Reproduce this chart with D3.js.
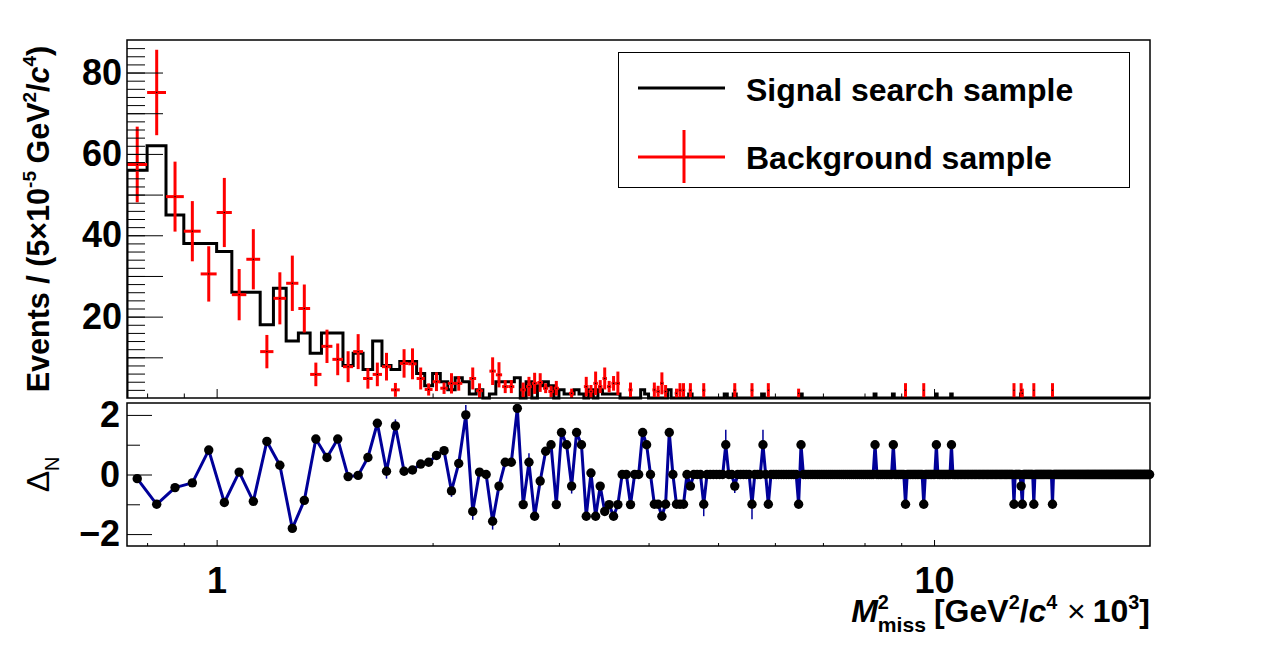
<!DOCTYPE html>
<html>
<head>
<meta charset="utf-8">
<script src="https://cdn.jsdelivr.net/npm/d3@7"></script>
<style>
  body { margin: 0; background: #fff; }
  svg { display: block; font-family: "Liberation Sans", Arial, Helvetica, sans-serif; }
  text { white-space: pre; }
</style>
</head>
<body>
<svg id="plot" width="1278" height="668"></svg>
<script>
// binning of M^2_miss (x10^3 GeV^2/c^4)
const binStart = 0.75;
const binWidth = 0.05;
const binCount = 385;

// signal search sample, entries per bin for bins 0..80
const signalCounts = [56, 62, 45, 38, 38, 36, 26, 26, 18, 27, 14, 16, 11, 16, 16, 8, 11, 7, 14, 8, 7, 9, 9, 6, 3, 6,
  4, 2, 5, 4, 1, 2, 0, 1, 4, 4, 4, 5, 0, 4, 0,
  3, 4, 3, 0, 2, 1, 1, 2, 1, 0, 2, 0, 2, 1, 1, 1, 1,
  0, 0, 0, 0, 0, 2, 1, 0, 0, 0, 0, 0, 2, 0, 0, 0, 0, 0, 1, 0, 0, 0, 0];
// bins above 80 that are not empty: [bin, entries]
const signalSparse = [[87, 1], [90, 1], [100, 1], [115, 1], [150, 1], [160, 1], [186, 1], [196, 1], [249, 1]];

// background sample, [value, error] for bins 0..80 (null = empty bin)
const bkgPoints = [[57.4, 9.3], [75.1, 10.5], [49.5, 8.6], [41.0, 7.4], [30.5, 6.8], [45.6, 8.5], [25.4, 6.3],
  [34.1, 7.4], [11.4, 4.1], [24.5, 6.4], [28.2, 6.8], [22.0, 5.9], [5.8, 2.9], [12.7, 4.1], [9.5, 3.9],
  [7.7, 3.8], [11.4, 4.3], [4.8, 2.5], [5.8, 2.9], [7.7, 3.4], [2.0, 1.7], [8.5, 3.5], [8.4, 3.8],
  [4.8, 2.7], [2.1, 1.5], [4.0, 2.3], [2.4, 1.4], [3.6, 2.5], [3.6, 1.8], null, [4.8, 2.7], [1.8, 1.8],
  null, [6.6, 3.4], [5.7, 3.1], [2.8, 1.6], [2.8, 1.6], null, [2.0, 1.8], [2.8, 2.4], [3.6, 2.6],
  [3.8, 2.3], [2.4, 1.2], [1.6, 1.4], [2.4, 1.8], null, null, [1.15, 1.15], null, null, [2.8, 2.4],
  [1.6, 1.6], [3.6, 2.9], [2.8, 1.6], [4.8, 2.7], [2.8, 1.4], [3.6, 1.8], [3.6, 2.9], null, null,
  [2.0, 1.8], null, null, null, null, null, [2.0, 1.8], [1.6, 1.4], [3.6, 2.7], [1.6, 1.6], null, null,
  [1.15, 1.15], [1.9, 1.75], [1.9, 1.75], null, [1.9, 1.75], null, null, null, [1.9, 1.75]];
// bins above 80: [bin, value, error]
const bkgSparse = [[90, 1.9, 1.75], [96, 1.9, 1.75], [102, 1.9, 1.75], [114, 1.15, 1.15], [167, 1.9, 1.75],
  [178, 1.9, 1.75], [243, 1.9, 1.75], [249, 1.9, 1.75], [250, 1.15, 1.15], [260, 1.9, 1.75], [277, 1.9, 1.75]];

// pull Delta_N per bin, bins 0..80
const deltaValues = [-0.14, -1.0, -0.44, -0.28, 0.82, -0.94, 0.08, -0.90, 1.11, 0.31, -1.81, -0.87, 1.19, 0.57,
  1.19, -0.07, -0.03, 0.57, 1.72, 0.11, 1.63, 0.11, 0.15, 0.35, 0.41, 0.64, 0.80, -0.55, 0.37, 2.0,
  -1.24, 0.08, 0, -1.57, -0.39, 0.41, 0.41, 2.22, -1.01, 0.41, -1.40, -0.22, 0.78, 1.0, -1.01, 1.41,
  1.0, -0.39, 1.41, 1.0, -1.40, 0.05, -1.40, -0.39, -1.24, -1.01, -1.40, -1.01, 0, 0, -1.01, 0, 0,
  1.41, 1.0, 0, -1.0, -1.0, -1.40, -1.0, 1.41, 0, -1.0, -1.0, -1.0, 0, -0.39, 0, 0, 0, -1.0];
// bins above 80 with non-zero pull: [bin, value]
const deltaSparse = [[87, 1], [90, -0.39], [96, -1], [100, 1], [102, -1], [114, -1], [115, 1], [150, 1],
  [160, 1], [167, -1], [178, -1], [186, 1], [196, 1], [243, -1], [249, -0.39], [250, -1], [260, -1], [277, -1]];
// visible pull error bars: [bin, error]
const deltaErrors = [[19, 0.25], [20, 0.22], [27, 0.2], [29, 0.33], [30, 0.28], [33, 0.28], [39, 0.3],
  [47, 0.25], [80, 0.4], [87, 0.5], [90, 0.23], [96, 0.5], [100, 0.5]];

// axis ticks
const xMajorTicks = [1, 10];
const xMinorTicks = [0.8, 0.9, 2, 3, 4, 5, 6, 7, 8, 9];
const yTopLabels = [20, 40, 60, 80];
const yTopMajor = [10, 20, 30, 40, 50, 60, 70, 80];
const yBotLabels = [-2, 0, 2];
const yBotMinor = [-1, 1];

const svg = d3.select("#plot");
const frameL = 127, frameR = 1150;
const topY0 = 40, topY1 = 398;
const botY0 = 403, botY1 = 546;
const labelFont = 36;

const x = d3.scaleLog().domain([0.75, 20]).range([frameL, frameR]);
const yTop = d3.scaleLinear().domain([0, 88]).range([topY1, topY0]);
const yBot = d3.scaleLinear().domain([-2.4, 2.4]).range([botY1, botY0]);

// assemble per-bin arrays
const edges = d3.range(binCount + 1).map(i => binStart + i * binWidth);
const centers = d3.range(binCount).map(i => binStart + (i + 0.5) * binWidth);
const signal = new Array(binCount).fill(0);
signalCounts.forEach((v, i) => signal[i] = v);
signalSparse.forEach(([b, v]) => signal[b] = v);
const bkg = [];
bkgPoints.forEach((p, i) => { if (p) bkg.push({ bin: i, v: p[0], e: p[1] }); });
bkgSparse.forEach(([b, v, e]) => bkg.push({ bin: b, v: v, e: e }));
const delta = new Array(binCount).fill(0);
deltaValues.forEach((v, i) => delta[i] = v);
deltaSparse.forEach(([b, v]) => delta[b] = v);

svg.append("rect").attr("width", 1278).attr("height", 668).attr("fill", "#fff");

const defs = svg.append("defs");
defs.append("clipPath").attr("id", "clipTop").append("rect")
  .attr("x", frameL).attr("y", topY0).attr("width", frameR - frameL).attr("height", topY1 - topY0 + 2);

// ---------- top panel ----------
const topG = svg.append("g");
const dataTop = topG.append("g").attr("clip-path", "url(#clipTop)");

// signal histogram as a step line
const stepPts = [[edges[0], 0]];
signal.forEach((v, i) => stepPts.push([edges[i], v]));
stepPts.push([edges[binCount], signal[binCount - 1]]);
stepPts.push([edges[binCount], 0]);
const stepLine = d3.line().x(d => x(d[0])).y(d => yTop(d[1])).curve(d3.curveStepAfter);
dataTop.append("path")
  .attr("d", stepLine(stepPts))
  .attr("fill", "none").attr("stroke", "#000").attr("stroke-width", 3)
  .attr("stroke-linejoin", "miter");

// background points with error bars
const bkgG = dataTop.append("g").attr("stroke", "#ff0000").attr("stroke-width", 3);
bkgG.selectAll("line.h").data(bkg).join("line").attr("class", "h")
  .attr("x1", d => x(edges[d.bin])).attr("x2", d => x(edges[d.bin + 1]))
  .attr("y1", d => yTop(d.v)).attr("y2", d => yTop(d.v));
bkgG.selectAll("line.v").data(bkg).join("line").attr("class", "v")
  .attr("x1", d => x(centers[d.bin])).attr("x2", d => x(centers[d.bin]))
  .attr("y1", d => yTop(d.v - d.e)).attr("y2", d => yTop(d.v + d.e));
dataTop.append("g").selectAll("rect").data(bkg).join("rect")
  .attr("x", d => x(centers[d.bin]) - 0.6).attr("y", d => yTop(d.v) - 0.6)
  .attr("width", 1.2).attr("height", 1.2).attr("fill", "#000");

// frame
topG.append("rect").attr("x", frameL).attr("y", topY0)
  .attr("width", frameR - frameL).attr("height", topY1 - topY0)
  .attr("fill", "none").attr("stroke", "#000").attr("stroke-width", 1.5);

function noDomain(g) { g.select(".domain").remove(); g.selectAll("line").attr("stroke", "#000"); }

// y ticks (inside) and labels
topG.append("g").attr("transform", `translate(${frameL},0)`)
  .call(d3.axisRight(yTop).tickValues(d3.range(2, 88, 2)).tickSize(18).tickFormat(""))
  .call(noDomain);
topG.append("g").attr("transform", `translate(${frameL},0)`)
  .call(d3.axisRight(yTop).tickValues(yTopMajor).tickSize(36).tickFormat(""))
  .call(noDomain);
topG.append("g").attr("transform", `translate(${frameL},0)`)
  .call(d3.axisLeft(yTop).tickValues(yTopLabels).tickSize(0).tickPadding(5))
  .call(noDomain)
  .call(g => g.selectAll("text").attr("font-size", labelFont).attr("font-weight", "bold")
    .attr("font-family", "Liberation Sans, Arial, sans-serif").attr("fill", "#000"));

// x ticks of the top panel
topG.append("g").attr("transform", `translate(0,${topY1})`)
  .call(d3.axisTop(x).tickValues(xMinorTicks).tickSize(4.5).tickFormat("")).call(noDomain);
topG.append("g").attr("transform", `translate(0,${topY1})`)
  .call(d3.axisTop(x).tickValues(xMajorTicks).tickSize(9).tickFormat("")).call(noDomain);

// ---------- legend ----------
const leg = svg.append("g");
leg.append("rect").attr("x", 618.5).attr("y", 52.5).attr("width", 511).attr("height", 135)
  .attr("fill", "#fff").attr("stroke", "#000").attr("stroke-width", 1);
leg.append("line").attr("x1", 638).attr("x2", 725).attr("y1", 88).attr("y2", 88)
  .attr("stroke", "#000").attr("stroke-width", 3);
leg.append("line").attr("x1", 638).attr("x2", 725).attr("y1", 157).attr("y2", 157)
  .attr("stroke", "#ff0000").attr("stroke-width", 3);
leg.append("line").attr("x1", 684).attr("x2", 684).attr("y1", 130).attr("y2", 183)
  .attr("stroke", "#ff0000").attr("stroke-width", 3);
leg.append("text").attr("x", 746).attr("y", 101).attr("font-size", 32).attr("font-weight", "bold")
  .text("Signal search sample");
leg.append("text").attr("x", 746).attr("y", 169).attr("font-size", 32).attr("font-weight", "bold")
  .text("Background sample");

// ---------- bottom panel ----------
const botG = svg.append("g");
const pullPts = centers.map((c, i) => [c, delta[i]]);
botG.append("path")
  .attr("d", d3.line().x(d => x(d[0])).y(d => yBot(d[1]))(pullPts))
  .attr("fill", "none").attr("stroke", "#000099").attr("stroke-width", 3).attr("stroke-linejoin", "round");
botG.append("g").selectAll("line").data(deltaErrors).join("line")
  .attr("x1", d => x(centers[d[0]])).attr("x2", d => x(centers[d[0]]))
  .attr("y1", d => yBot(delta[d[0]] - d[1])).attr("y2", d => yBot(delta[d[0]] + d[1]))
  .attr("stroke", "#000099").attr("stroke-width", 1.5);
botG.append("g").selectAll("circle").data(pullPts).join("circle")
  .attr("cx", d => x(d[0])).attr("cy", d => yBot(d[1])).attr("r", 4.7).attr("fill", "#000");

botG.append("rect").attr("x", frameL).attr("y", botY0)
  .attr("width", frameR - frameL).attr("height", botY1 - botY0)
  .attr("fill", "none").attr("stroke", "#000").attr("stroke-width", 1.5);

botG.append("g").attr("transform", `translate(${frameL},0)`)
  .call(d3.axisRight(yBot).tickValues(yBotMinor).tickSize(13).tickFormat("")).call(noDomain);
botG.append("g").attr("transform", `translate(${frameL},0)`)
  .call(d3.axisRight(yBot).tickValues(yBotLabels).tickSize(25).tickFormat("")).call(noDomain);
botG.append("g").attr("transform", `translate(${frameL},0)`)
  .call(d3.axisLeft(yBot).tickValues(yBotLabels).tickSize(0).tickPadding(7).tickFormat(d3.format("d")))
  .call(noDomain)
  .call(g => g.selectAll("text").attr("font-size", labelFont).attr("font-weight", "bold")
    .attr("font-family", "Liberation Sans, Arial, sans-serif").attr("fill", "#000"));

botG.append("g").attr("transform", `translate(0,${botY1})`)
  .call(d3.axisTop(x).tickValues(xMinorTicks).tickSize(3).tickFormat("")).call(noDomain);
botG.append("g").attr("transform", `translate(0,${botY1})`)
  .call(d3.axisTop(x).tickValues(xMajorTicks).tickSize(6).tickFormat("")).call(noDomain);
botG.append("g").attr("transform", `translate(0,${botY1})`)
  .call(d3.axisBottom(x).tickValues(xMajorTicks).tickSize(0).tickPadding(21).tickFormat(d3.format("d")))
  .call(noDomain)
  .call(g => g.selectAll("text").attr("font-size", labelFont).attr("font-weight", "bold")
    .attr("font-family", "Liberation Sans, Arial, sans-serif").attr("fill", "#000"));

// ---------- axis titles ----------
// lays out a run of text pieces left to right; stacked pieces share the previous start
function richText(g, parts, size) {
  let cx = 0, prevStart = 0, prevEnd = 0;
  parts.forEach(p => {
    if (p.gap) { cx += p.gap * size; return; }
    const s = size * (p.scale || 1);
    const start = p.stack ? prevStart : cx;
    const t = g.append("text").attr("x", start).attr("y", (p.dy || 0) * size)
      .attr("font-size", s).attr("font-weight", p.normal ? "normal" : "bold")
      .attr("font-style", p.italic ? "italic" : "normal").text(p.t);
    const w = t.node().getComputedTextLength();
    if (p.stack) {
      cx = Math.max(prevEnd, start + w);
    } else {
      prevStart = start; prevEnd = start + w; cx = start + w;
    }
  });
  return cx;
}

const sup = -0.42, sub = 0.3;
const xTitle = svg.append("g");
const xw = richText(xTitle, [
  { t: "M", italic: true },
  { t: "2", scale: 0.62, dy: sup },
  { t: "miss", scale: 0.66, dy: sub, stack: true },
  { gap: 0.25 },
  { t: "[GeV" },
  { t: "2", scale: 0.62, dy: sup },
  { t: "/" },
  { t: "c", italic: true },
  { t: "4", scale: 0.62, dy: sup },
  { gap: 0.3 },
  { t: "×", normal: true },
  { gap: 0.22 },
  { t: "10" },
  { t: "3", scale: 0.62, dy: sup },
  { t: "]" }
], 32);
xTitle.attr("transform", `translate(${frameR - xw},622)`);

const yTitle = svg.append("g");
const yw = richText(yTitle, [
  { t: "Events / (5×10" },
  { t: "-5", scale: 0.62, dy: sup },
  { gap: 0.25 },
  { t: "GeV" },
  { t: "2", scale: 0.62, dy: sup },
  { t: "/" },
  { t: "c", italic: true },
  { t: "4", scale: 0.62, dy: sup },
  { t: ")" }
], 30.5);
yTitle.attr("transform", `translate(49,${(topY0 + topY1) / 2 + yw / 2}) rotate(-90)`);

const dTitle = svg.append("g");
const dw = richText(dTitle, [
  { t: "Δ", normal: true },
  { t: "N", normal: true, scale: 0.62, dy: sub }
], 32);
dTitle.attr("transform", `translate(49,${yBot(0) + dw / 2}) rotate(-90)`);
</script>
</body>
</html>
